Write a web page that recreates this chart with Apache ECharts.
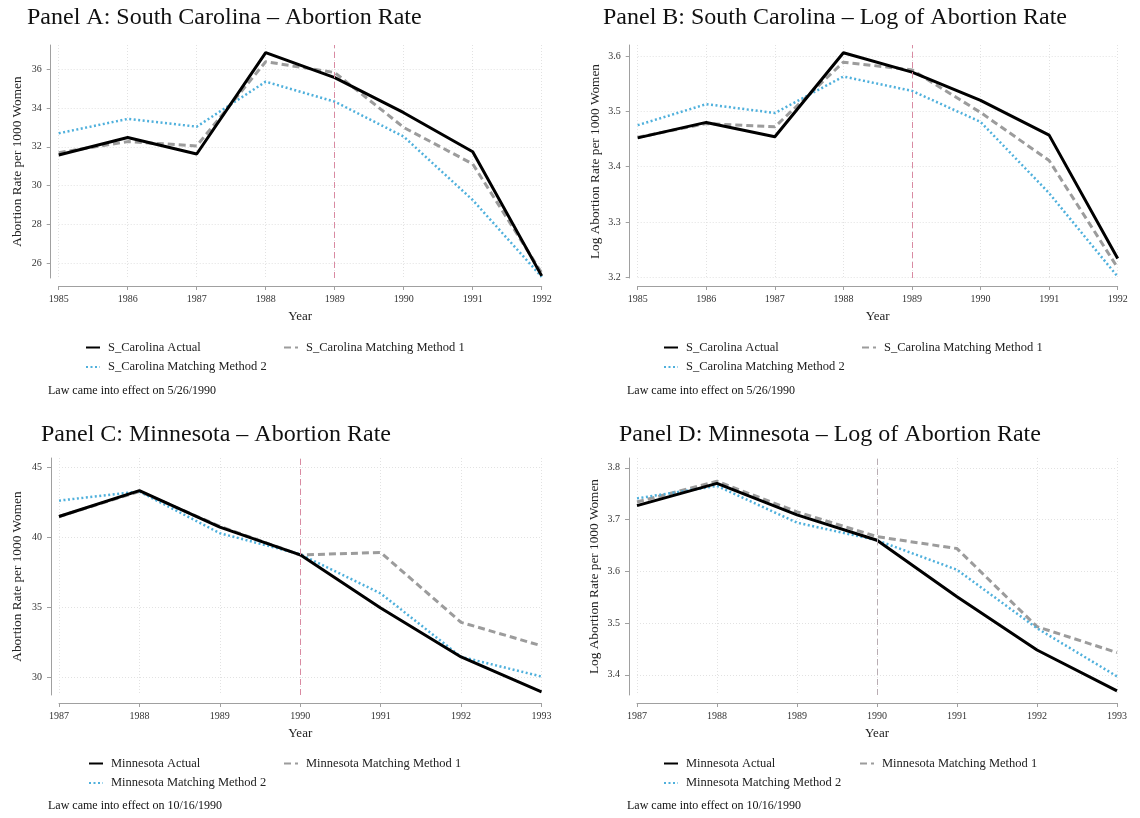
<!DOCTYPE html>
<html>
<head>
<meta charset="utf-8">
<style>
  html, body { margin: 0; padding: 0; background: #fff; }
  #chart { width: 1140px; height: 818px; }
</style>
<script src="https://cdn.jsdelivr.net/npm/echarts@6/dist/echarts.min.js"></script>
</head>
<body>
<div id="chart"></div>
<script>
// South Carolina, 1985-1992
const scYears = [1985, 1986, 1987, 1988, 1989, 1990, 1991, 1992];
const scRateActual = [31.58, 32.48, 31.63, 36.86, 35.57, 33.76, 31.75, 25.35];
const scRateM1     = [31.70, 32.27, 32.05, 36.39, 35.83, 33.00, 31.12, 25.50];
const scRateM2     = [32.70, 33.44, 33.04, 35.36, 34.33, 32.53, 29.26, 25.30];
const scLogActual  = [3.452, 3.480, 3.454, 3.606, 3.571, 3.520, 3.457, 3.234];
const scLogM1      = [3.453, 3.478, 3.472, 3.589, 3.575, 3.498, 3.411, 3.217];
const scLogM2      = [3.475, 3.513, 3.497, 3.563, 3.537, 3.481, 3.352, 3.201];

// Minnesota, 1987-1993
const mnYears = [1987, 1988, 1989, 1990, 1991, 1992, 1993];
const mnRateActual = [41.50, 43.36, 40.74, 38.76, 34.96, 31.45, 28.95];
const mnRateM1     = [41.50, 43.30, 40.80, 38.75, 38.93, 33.93, 32.25];
const mnRateM2     = [42.64, 43.29, 40.31, 38.80, 36.00, 31.46, 30.05];
const mnLogActual  = [3.727, 3.770, 3.709, 3.660, 3.551, 3.448, 3.369];
const mnLogM1      = [3.734, 3.774, 3.715, 3.667, 3.644, 3.493, 3.443];
const mnLogM2      = [3.741, 3.765, 3.694, 3.660, 3.603, 3.490, 3.397];

// Y-axis tick labels
const scRateTicks = [26, 28, 30, 32, 34, 36];
const scLogTicks  = [3.2, 3.3, 3.4, 3.5, 3.6];
const mnRateTicks = [30, 35, 40, 45];
const mnLogTicks  = [3.4, 3.5, 3.6, 3.7, 3.8];

// Year each law took effect (vertical marker)
const scLawYear = 1989;
const mnLawYear = 1990;

const SERIF = '"Liberation Serif", "Times New Roman", serif';
const GRID_COLOR = '#e2e2e2';
const AXIS_COLOR = '#a0a0a0';

const chart = echarts.init(document.getElementById('chart'), null, { renderer: 'canvas' });

function zip(xs, ys) { return xs.map((x, i) => [x, ys[i]]); }

// plot boxes (pixels) and value ranges for each panel
const panels = [
  { grid: { left: 58.7, top: 45, width: 483, height: 233 }, years: scYears, ymin: 25.24, ymax: 37.25, ticks: scRateTicks, dec: 0, yname: 'Abortion Rate per 1000 Women', nameGap: 27 },
  { grid: { left: 637.7, top: 45, width: 480, height: 233 }, years: scYears, ymin: 3.1986, ymax: 3.62, ticks: scLogTicks, dec: 1, yname: 'Log Abortion Rate per 1000 Women', nameGap: 28 },
  { grid: { left: 59, top: 458, width: 482.5, height: 237 }, years: mnYears, ymin: 28.73, ymax: 45.69, ticks: mnRateTicks, dec: 0, yname: 'Abortion Rate per 1000 Women', nameGap: 27 },
  { grid: { left: 637, top: 458, width: 480, height: 237 }, years: mnYears, ymin: 3.361, ymax: 3.819, ticks: mnLogTicks, dec: 1, yname: 'Log Abortion Rate per 1000 Women', nameGap: 28 }
];

const grids = panels.map(p => p.grid);

const xAxes = panels.map((p, i) => ({
  type: 'value', gridIndex: i,
  min: p.years[0], max: p.years[p.years.length - 1], interval: 1,
  offset: 8,
  name: 'Year', nameLocation: 'middle', nameGap: 24,
  nameTextStyle: { fontFamily: SERIF, fontSize: 13, color: '#222' },
  axisLine: { show: true, lineStyle: { color: AXIS_COLOR, width: 1 } },
  axisTick: { show: true, length: 4, lineStyle: { color: AXIS_COLOR } },
  axisLabel: { fontFamily: SERIF, fontSize: 10, color: '#333', margin: 8, formatter: v => String(v) },
  splitLine: { show: true, lineStyle: { color: GRID_COLOR, type: [1, 2], width: 1 } }
}));

const yAxes = panels.map((p, i) => ({
  type: 'value', gridIndex: i,
  min: p.ymin, max: p.ymax,
  offset: 8,
  name: p.yname, nameLocation: 'middle', nameGap: p.nameGap,
  nameTextStyle: { fontFamily: SERIF, fontSize: 13.3, color: '#222' },
  axisLine: { show: true, lineStyle: { color: AXIS_COLOR, width: 1 } },
  axisTick: { show: true, length: 4, customValues: p.ticks, lineStyle: { color: AXIS_COLOR } },
  axisLabel: { fontFamily: SERIF, fontSize: 10, color: '#333', margin: 9, customValues: p.ticks,
               formatter: v => Number(v).toFixed(p.dec) },
  splitLine: { show: true, lineStyle: { color: GRID_COLOR, type: [1, 2], width: 1 } }
}));

const styleActual = { color: '#000000', width: 3, type: 'solid' };
const styleM1 = { color: '#9c9c9c', width: 3, type: [7, 4] };
const styleM2 = { color: '#4fb0dc', width: 2.5, type: [2, 2.5] };

function lawMarker(year, color) {
  return {
    silent: true, symbol: ['none', 'none'], animation: false,
    label: { show: false },
    lineStyle: { color: color, type: [6, 4], width: 1 },
    data: [{ xAxis: year }]
  };
}

function seriesSet(i, years, actual, m1, m2, names, lawYear, lawColor) {
  return [
    { type: 'line', name: names[1], xAxisIndex: i, yAxisIndex: i, data: zip(years, m1),
      showSymbol: false, symbol: 'none', lineStyle: styleM1, itemStyle: { color: styleM1.color }, z: 2 },
    { type: 'line', name: names[2], xAxisIndex: i, yAxisIndex: i, data: zip(years, m2),
      showSymbol: false, symbol: 'none', lineStyle: styleM2, itemStyle: { color: styleM2.color }, z: 3 },
    { type: 'line', name: names[0], xAxisIndex: i, yAxisIndex: i, data: zip(years, actual),
      showSymbol: false, symbol: 'none', lineStyle: styleActual, itemStyle: { color: styleActual.color }, z: 4,
      markLine: lawMarker(lawYear, lawColor) }
  ];
}

const scNames = ['S_Carolina Actual', 'S_Carolina Matching Method 1', 'S_Carolina Matching Method 2'];
const mnNames = ['Minnesota Actual', 'Minnesota Matching Method 1', 'Minnesota Matching Method 2'];

const series = [].concat(
  seriesSet(0, scYears, scRateActual, scRateM1, scRateM2, scNames, scLawYear, '#d98aa2'),
  seriesSet(1, scYears, scLogActual, scLogM1, scLogM2, scNames, scLawYear, '#d98aa2'),
  seriesSet(2, mnYears, mnRateActual, mnRateM1, mnRateM2, mnNames, mnLawYear, '#d98aa2'),
  seriesSet(3, mnYears, mnLogActual, mnLogM1, mnLogM2, mnNames, mnLawYear, '#b9adb3')
);

// legend blocks under each panel: two columns, two rows; line swatches only
function legendBlock(names, x0, y0, colGap) {
  const pos = [[x0, y0], [x0 + colGap, y0], [x0, y0 + 19.5]];
  return names.map((n, k) => ({
    data: [n], left: pos[k][0], top: pos[k][1], padding: 0,
    selectedMode: false, itemWidth: 14, itemHeight: 10, itemGap: 0,
    itemStyle: { opacity: 0 },
    textStyle: { fontFamily: SERIF, fontSize: 12.5, color: '#222', padding: [0, 0, 0, 3] }
  }));
}

const legends = [].concat(
  legendBlock(scNames, 85, 341, 198),
  legendBlock(scNames, 663, 341, 198),
  legendBlock(mnNames, 88, 757, 195),
  legendBlock(mnNames, 663, 757, 196)
);

function txt(text, left, top, size) {
  return { text: text, left: left, top: top, padding: 0,
           textStyle: { fontFamily: SERIF, fontSize: size, fontWeight: 'normal', color: '#111' } };
}

const titles = [
  txt('Panel A: South Carolina \u2013 Abortion Rate', 27, 6, 24),
  txt('Panel B: South Carolina \u2013 Log of Abortion Rate', 603, 6, 24),
  txt('Panel C: Minnesota \u2013 Abortion Rate', 41, 423, 24),
  txt('Panel D: Minnesota \u2013 Log of Abortion Rate', 619, 423, 24),
  txt('Law came into effect on 5/26/1990', 48, 385, 12),
  txt('Law came into effect on 5/26/1990', 627, 385, 12),
  txt('Law came into effect on 10/16/1990', 48, 800, 12),
  txt('Law came into effect on 10/16/1990', 627, 800, 12)
];

chart.setOption({
  animation: false,
  backgroundColor: '#ffffff',
  title: titles,
  legend: legends,
  grid: grids,
  xAxis: xAxes,
  yAxis: yAxes,
  series: series
});
</script>
</body>
</html>
